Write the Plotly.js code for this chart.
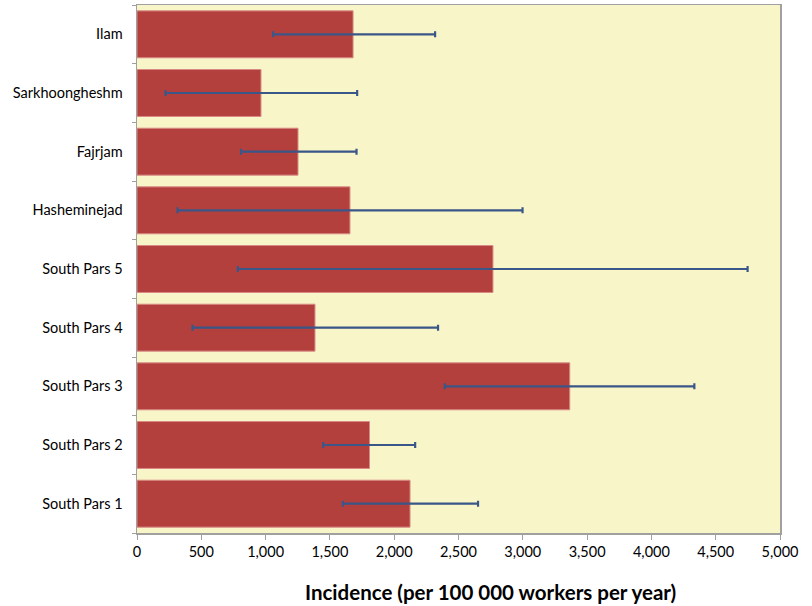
<!DOCTYPE html>
<html>
<head>
<meta charset="utf-8">
<script src="https://cdn.plot.ly/plotly-3.0.1.min.js"></script>
<style>body{margin:0;background:#fff}#chart{width:812px;height:606px}</style>
</head>
<body>
<div id="chart"></div>
<script>
const sites = ["South Pars 1","South Pars 2","South Pars 3","South Pars 4","South Pars 5","Hasheminejad","Fajrjam","Sarkhoongheshm","Ilam"];
const incidence = [2123, 1808, 3365, 1384, 2768, 1656, 1252, 964, 1680];
const lowerCI = [1600, 1448, 2393, 432, 784, 315, 809, 222, 1058];
const upperCI = [2652, 2163, 4334, 2341, 4748, 2998, 1707, 1712, 2318];
const xTickVals = [0,500,1000,1500,2000,2500,3000,3500,4000,4500,5000];
const xTickText = ["0","500","1,000","1,500","2,000","2,500","3,000","3,500","4,000","4,500","5,000"];
const xTitle = "Incidence (per 100 000 workers per year)";

const errPlus = upperCI.map((u,i)=>u-incidence[i]);
const errMinus = incidence.map((v,i)=>v-lowerCI[i]);

const trace = {
  type: "bar",
  orientation: "h",
  y: sites,
  x: incidence,
  marker: {color: "#b3403d", line: {color: "#d98a87", width: 1}},
  error_x: {type: "data", symmetric: false, array: errPlus, arrayminus: errMinus,
            color: "#3b5688", thickness: 2.2, width: 3},
  hoverinfo: "none"
};

const layout = {
  width: 812, height: 606,
  margin: {l: 137, r: 32, t: 5, b: 73},
  paper_bgcolor: "#ffffff",
  plot_bgcolor: "#f8f6c9",
  bargap: 0.2,
  font: {family: "Lato, 'Liberation Sans', sans-serif", color: "#000", size: 14.5},
  showlegend: false,
  xaxis: {
    range: [0, 5000], tickvals: xTickVals, ticktext: xTickText,
    showgrid: false, zeroline: false,
    showline: true, linecolor: "#a0a0a0", linewidth: 1.5, mirror: true,
    ticks: "outside", ticklen: 5, tickcolor: "#a0a0a0",
    tickfont: {size: 14.5}
  },
  yaxis: {
    type: "category",
    showgrid: false, zeroline: false,
    showline: true, linecolor: "#a0a0a0", linewidth: 1.5, mirror: true,
    ticks: "outside", ticklen: 4, tickcolor: "#a0a0a0", tickson: "boundaries",
    ticklabelstandoff: 10,
    tickfont: {size: 14.5}
  },
  annotations: [{
    text: xTitle, xref: "paper", yref: "paper", x: 0.5505, y: -0.112,
    xanchor: "center", yanchor: "middle", showarrow: false,
    font: {size: 20.5, weight: "bold"}
  }]
};

Plotly.newPlot("chart", [trace], layout, {displayModeBar: false, staticPlot: true});
</script>
</body>
</html>
